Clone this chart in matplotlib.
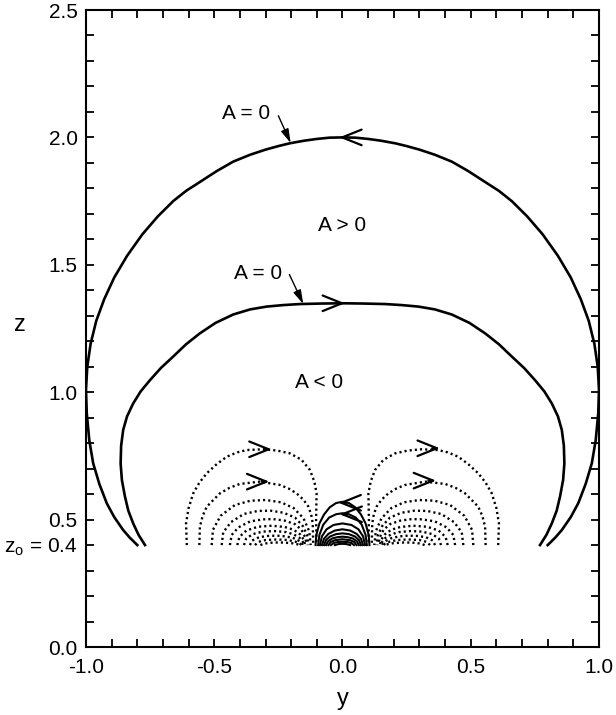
import matplotlib
matplotlib.use("Agg")
import matplotlib.pyplot as plt
from matplotlib.ticker import MultipleLocator

plt.rcParams['font.family'] = ['Liberation Sans', 'DejaVu Sans']
plt.rcParams['mathtext.fontset'] = 'custom'
plt.rcParams['mathtext.rm'] = 'Liberation Sans'
plt.rcParams['mathtext.it'] = 'Liberation Sans'

# field lines, (y, z) pairs, left halves / left lobes
outer_half = [(-0.800, 0.400), (-0.830, 0.430), (-0.855, 0.459), (-0.890, 0.510),
              (-0.919, 0.564), (-0.948, 0.640), (-0.972, 0.721), (-0.987, 0.810),
              (-0.997, 0.917), (-1.000, 1.010), (-0.995, 1.100), (-0.982, 1.190),
              (-0.960, 1.280), (-0.929, 1.365), (-0.890, 1.450), (-0.840, 1.535),
              (-0.780, 1.620), (-0.720, 1.690), (-0.660, 1.750), (-0.610, 1.790),
              (-0.556, 1.825), (-0.490, 1.868), (-0.426, 1.905), (-0.360, 1.932),
              (-0.300, 1.952), (-0.250, 1.966), (-0.205, 1.977), (-0.150, 1.987),
              (-0.100, 1.994), (-0.050, 1.999), (0.000, 2.000)]
inner_half = [(-0.770, 0.400), (-0.795, 0.440), (-0.816, 0.485), (-0.835, 0.535),
              (-0.848, 0.590), (-0.860, 0.655), (-0.865, 0.720), (-0.863, 0.790),
              (-0.855, 0.852), (-0.840, 0.905), (-0.816, 0.956), (-0.787, 1.003),
              (-0.750, 1.048), (-0.708, 1.095), (-0.660, 1.140), (-0.610, 1.188),
              (-0.556, 1.231), (-0.495, 1.272), (-0.426, 1.305), (-0.360, 1.325),
              (-0.296, 1.336), (-0.230, 1.342), (-0.166, 1.346), (-0.080, 1.348),
              (0.000, 1.349)]

lobes = [
    [(-0.607, 0.40), (-0.610, 0.485), (-0.600, 0.545), (-0.582, 0.603), (-0.558, 0.645),
     (-0.529, 0.682), (-0.490, 0.718), (-0.451, 0.747), (-0.410, 0.764), (-0.373, 0.773),
     (-0.309, 0.776), (-0.255, 0.771), (-0.205, 0.760), (-0.160, 0.735), (-0.127, 0.695),
     (-0.110, 0.650), (-0.101, 0.603), (-0.103, 0.50), (-0.101, 0.40)],
    [(-0.558, 0.40), (-0.556, 0.472), (-0.545, 0.515), (-0.529, 0.551), (-0.478, 0.603),
     (-0.440, 0.625), (-0.400, 0.640), (-0.322, 0.649), (-0.244, 0.636), (-0.210, 0.622),
     (-0.179, 0.603), (-0.152, 0.578), (-0.133, 0.551), (-0.122, 0.520), (-0.116, 0.485),
     (-0.114, 0.40)],
    [(-0.510, 0.40), (-0.505, 0.46), (-0.475, 0.515), (-0.42, 0.557), (-0.36, 0.574),
     (-0.30, 0.577), (-0.24, 0.568), (-0.19, 0.545), (-0.152, 0.505), (-0.13, 0.455),
     (-0.124, 0.40)],
    [(-0.471, 0.40), (-0.465, 0.45), (-0.435, 0.49), (-0.385, 0.522), (-0.33, 0.534),
     (-0.28, 0.535), (-0.23, 0.527), (-0.185, 0.508), (-0.155, 0.475), (-0.138, 0.44),
     (-0.133, 0.40)],
    [(-0.439, 0.40), (-0.432, 0.44), (-0.405, 0.47), (-0.36, 0.493), (-0.31, 0.501),
     (-0.27, 0.502), (-0.225, 0.496), (-0.185, 0.482), (-0.16, 0.46), (-0.145, 0.43),
     (-0.140, 0.40)],
    [(-0.410, 0.40), (-0.402, 0.432), (-0.375, 0.457), (-0.33, 0.472), (-0.275, 0.476),
     (-0.225, 0.471), (-0.19, 0.46), (-0.165, 0.442), (-0.15, 0.42), (-0.146, 0.40)],
    [(-0.384, 0.40), (-0.376, 0.425), (-0.35, 0.443), (-0.31, 0.453), (-0.265, 0.455),
     (-0.22, 0.451), (-0.19, 0.442), (-0.167, 0.428), (-0.155, 0.413), (-0.150, 0.40)],
    [(-0.361, 0.40), (-0.352, 0.418), (-0.325, 0.431), (-0.29, 0.436), (-0.255, 0.437),
     (-0.22, 0.434), (-0.19, 0.427), (-0.17, 0.417), (-0.158, 0.408), (-0.155, 0.40)],
    [(-0.341, 0.40), (-0.33, 0.412), (-0.30, 0.42), (-0.255, 0.422), (-0.215, 0.42),
     (-0.185, 0.414), (-0.167, 0.406), (-0.160, 0.40)],
    [(-0.320, 0.40), (-0.305, 0.406), (-0.27, 0.41), (-0.23, 0.41), (-0.195, 0.407),
     (-0.175, 0.403), (-0.165, 0.40)],
]

core_halves = [
    [(-0.105, 0.40), (-0.102, 0.44), (-0.090, 0.485), (-0.072, 0.52), (-0.050, 0.548),
     (-0.025, 0.565), (0.0, 0.570)],
    [(-0.095, 0.40), (-0.090, 0.44), (-0.075, 0.48), (-0.052, 0.508), (-0.025, 0.521),
     (0.0, 0.525)],
    [(-0.088, 0.40), (-0.080, 0.435), (-0.062, 0.462), (-0.035, 0.479), (0.0, 0.485)],
    [(-0.080, 0.40), (-0.072, 0.425), (-0.055, 0.444), (-0.030, 0.457), (0.0, 0.462)],
    [(-0.072, 0.40), (-0.064, 0.42), (-0.048, 0.434), (-0.025, 0.443), (0.0, 0.446)],
    [(-0.064, 0.40), (-0.056, 0.415), (-0.040, 0.426), (-0.020, 0.431), (0.0, 0.433)],
    [(-0.055, 0.40), (-0.046, 0.412), (-0.030, 0.419), (0.0, 0.423)],
    [(-0.045, 0.40), (-0.035, 0.408), (-0.018, 0.412), (0.0, 0.413)],
    [(-0.030, 0.40), (-0.015, 0.404), (0.0, 0.405)],
]

# arrow tips and direction (+1 right, -1 left)
solid_arrows = [(-0.013, 2.000, -1), (0.010, 1.349, 1), (-0.016, 0.566, -1), (-0.012, 0.521, -1)]
dotted_arrows = [(-0.276, 0.776, 1), (-0.285, 0.649, 1), (0.380, 0.780, 1), (0.365, 0.653, 1)]

# labels: text position, pointer start, pointer end
labels = ['A = 0', 'A = 0', 'A > 0', 'A < 0']
label_pos = [(-0.376, 2.094), (-0.331, 1.467), (0.0, 1.656), (-0.09, 1.04)]
pointers = [((-0.250, 2.085), (-0.202, 1.978)), ((-0.207, 1.462), (-0.153, 1.346))]

ytick_pos = [0.0, 0.4, 0.5, 1.0, 1.5, 2.0, 2.5]
ytick_lab = ['0.0', r'z$_\mathrm{o}$ = 0.4', '0.5', '1.0', '1.5', '2.0', '2.5']
xtick_pos = [-1.0, -0.5, 0.0, 0.5, 1.0]
xtick_lab = ['-1.0', '-0.5', '0.0', '0.5', '1.0']


def full(half):
    return half + [(-y, z) for y, z in reversed(half[:-1])]


fig = plt.figure(figsize=(6.16, 7.15), dpi=100)
ax = fig.add_axes([0.1396, 0.0951, 0.8328, 0.8909])

for half in [outer_half, inner_half]:
    pts = full(half)
    ax.plot([p[0] for p in pts], [p[1] for p in pts], color='black', lw=1.9,
            solid_joinstyle='round')

for half in core_halves:
    pts = full(half)
    ax.plot([p[0] for p in pts], [p[1] for p in pts], color='black', lw=1.5,
            solid_joinstyle='round')

dots = (0, (0.9, 1.3))
for lobe in lobes:
    ax.plot([p[0] for p in lobe], [p[1] for p in lobe], color='black', lw=1.7, ls=dots)
    ax.plot([-p[0] for p in lobe], [p[1] for p in lobe], color='black', lw=1.7, ls=dots)

for x, z, d in solid_arrows + dotted_arrows:
    ax.annotate('', xy=(x, z), xytext=(x - d * 0.03, z),
                arrowprops=dict(arrowstyle='->, head_length=0.7, head_width=0.28',
                                color='black', lw=1.6, mutation_scale=20,
                                shrinkA=0, shrinkB=0))

for txt, (x, z) in zip(labels, label_pos):
    ax.text(x, z, txt, fontsize=15, ha='center', va='center')

for start, end in pointers:
    ax.annotate('', xy=end, xytext=start,
                arrowprops=dict(arrowstyle='-|>, head_length=0.7, head_width=0.2',
                                color='black', lw=1.0, mutation_scale=12,
                                shrinkA=0, shrinkB=0))

ax.set_xlim(-1, 1)
ax.set_ylim(0, 2.5)
ax.set_xticks(xtick_pos)
ax.set_xticklabels(xtick_lab)
ax.set_yticks(ytick_pos)
ax.set_yticklabels(ytick_lab)
ax.xaxis.set_minor_locator(MultipleLocator(0.1))
ax.yaxis.set_minor_locator(MultipleLocator(0.1))
ax.tick_params(which='both', direction='in', top=True, right=True, length=6, width=1.3,
               labelsize=15)
ax.tick_params(axis='y', pad=6)
ax.tick_params(axis='x', pad=8)
for s in ax.spines.values():
    s.set_linewidth(1.5)

ax.set_xlabel('y', fontsize=17, labelpad=8)
ax.set_ylabel('z', fontsize=17, rotation=0, ha='center', va='center')
ax.yaxis.set_label_coords(-0.129, 0.505)

fig.savefig('out.png', dpi=100)
